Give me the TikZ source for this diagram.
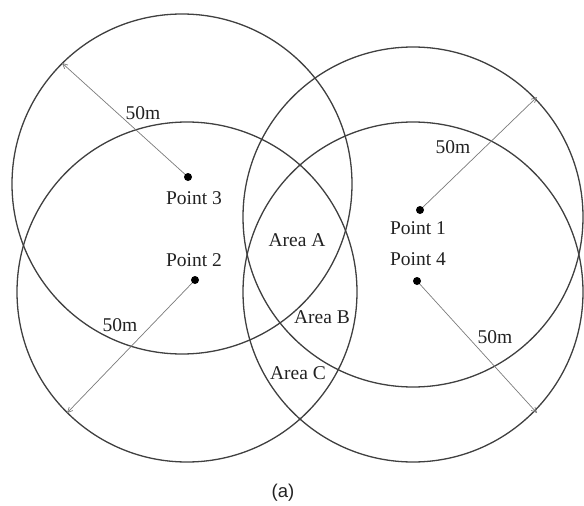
\documentclass[tikz,border=0pt]{standalone}
\usepackage{fontspec}
\setmainfont{Liberation Serif}
\newfontfamily\capfont{Liberation Sans}
\usetikzlibrary{arrows.meta}
\definecolor{ringc}{HTML}{404040}
\definecolor{arrc}{HTML}{7A7A7A}
\definecolor{txtc}{HTML}{222222}
\begin{document}
\begin{tikzpicture}[x=1pt,y=-1pt,
  ring/.style={draw=ringc,line width=1.3pt},
  radline/.style={draw=arrc,line width=0.7pt,-{Straight Barb[length=5pt,width=5pt]}},
  lbl/.style={text=txtc,inner sep=0pt,font=\fontsize{19.5}{22}\selectfont},
  pdot/.style={fill=black}]
\useasboundingbox (0,0) rectangle (584,506);
% circle centres
\coordinate (c3) at (182,184);
\coordinate (c2) at (187,292);
\coordinate (c1) at (413,217);
\coordinate (c4) at (413,292);
% points
\coordinate (d3) at (188,177);
\coordinate (d2) at (195,280);
\coordinate (d1) at (420,210);
\coordinate (d4) at (417,281);
% arrow tips on circles
\coordinate (t3) at (62,63);
\coordinate (t1) at (537,97);
\coordinate (t2) at (67,413);
\coordinate (t4) at (537,413);
% circles
\draw[ring] (c3) circle[radius=170pt];
\draw[ring] (c2) circle[radius=170pt];
\draw[ring] (c1) circle[radius=170pt];
\draw[ring] (c4) circle[radius=170pt];
% radius arrows
\draw[radline] (d3) -- (t3);
\draw[radline] (d1) -- (t1);
\draw[radline] (d2) -- (t2);
\draw[radline] (d4) -- (t4);
% dots
\fill[pdot] (d3) circle[radius=4pt];
\fill[pdot] (d2) circle[radius=4pt];
\fill[pdot] (d1) circle[radius=4pt];
\fill[pdot] (d4) circle[radius=4pt];
% labels
\node[lbl] (p3) at (194,198) {Point 3};
\node[lbl] (p2) at (194,260) {Point 2};
\node[lbl] (p1) at (418,228) {Point 1};
\node[lbl] (p4) at (418,259) {Point 4};
\node[lbl] (m3) at (143,113) {50m};
\node[lbl] (m1) at (453,147) {50m};
\node[lbl] (m2) at (120,325) {50m};
\node[lbl] (m4) at (495,337) {50m};
\node[lbl] (aa) at (297,240) {Area A};
\node[lbl] (ab) at (322,317) {Area B};
\node[lbl] (ac) at (298,373) {Area C};
\node[lbl,font=\capfont\fontsize{18.5}{21}\selectfont] (cap) at (283,493) {(a)};
\end{tikzpicture}
\end{document}
